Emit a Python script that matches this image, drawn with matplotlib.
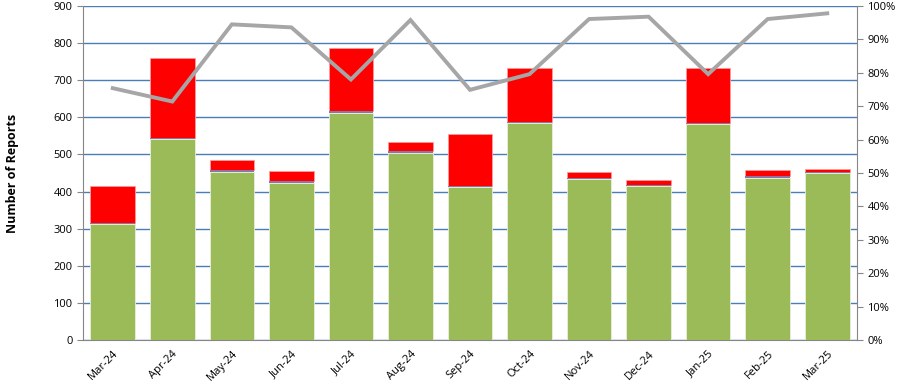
import matplotlib
matplotlib.use("Agg")
import matplotlib.pyplot as plt
import numpy as np

months = ["Mar-24", "Apr-24", "May-24", "Jun-24", "Jul-24", "Aug-24", "Sep-24",
          "Oct-24", "Nov-24", "Dec-24", "Jan-25", "Feb-25", "Mar-25"]
green = [312, 541, 453, 424, 612, 503, 413, 585, 433, 415, 582, 437, 450]
purple = [3, 4, 5, 4, 5, 7, 3, 3, 4, 2, 3, 5, 2]
red = [100, 216, 27, 28, 169, 23, 138, 146, 17, 14, 147, 16, 9]
pct = [75.4, 71.4, 94.5, 93.6, 78.0, 95.8, 74.9, 79.6, 96.1, 96.8, 79.6, 96.1, 97.8]

plt.rcParams['font.family'] = ['Open Sans', 'DejaVu Sans']

fig = plt.figure(figsize=(9.05, 3.88), dpi=100)
ax = fig.add_axes([83/905, 48/388, (857-83)/905, (340-6)/388])
x = np.arange(len(months))
g = np.array(green); p = np.array(purple); r = np.array(red)
ax.bar(x, g, width=0.75, color='#9BBB59', edgecolor='#e8eedc', linewidth=0.6, zorder=3)
ax.bar(x, p, bottom=g, width=0.75, color='#8C74A6', edgecolor='none', zorder=4)
ax.bar(x, r, bottom=g+p, width=0.75, color='#FF0000', edgecolor='#ff9a9a', linewidth=0.6, zorder=3)

ax.set_xlim(-0.5, len(months)-0.5)
ax.set_ylim(0, 900)
ax.set_yticks(range(0, 901, 100))
ax.yaxis.grid(True, color='#4A7EBB', linewidth=1.0, zorder=0)
ax.set_axisbelow(True)
ax.set_xticks(x)
ax.set_xticklabels(months, rotation=45, ha='right', rotation_mode='anchor', fontsize=8)
ax.tick_params(axis='x', length=0, pad=6)
ax.tick_params(axis='y', labelsize=8, length=4, color='#868686')
for s in ['top', 'right']:
    ax.spines[s].set_visible(False)
for s in ['left', 'bottom']:
    ax.spines[s].set_color('#868686')
ax.set_ylabel("Number of Reports", fontsize=9, fontweight='bold')
ax.yaxis.set_label_coords((19-83)/774, 0.5)

ax2 = ax.twinx()
ax2.plot(x, pct, color='#A6A6A6', linewidth=2.8, zorder=5, solid_joinstyle='miter')
ax2.set_ylim(0, 100)
ax2.set_yticks(range(0, 101, 10))
ax2.set_yticklabels([f"{v}%" for v in range(0, 101, 10)], fontsize=8)
ax2.tick_params(axis='y', length=4, color='#868686')
for s in ['top', 'left', 'bottom']:
    ax2.spines[s].set_visible(False)
ax2.spines['right'].set_color('#868686')

fig.savefig("out.png", dpi=100)
